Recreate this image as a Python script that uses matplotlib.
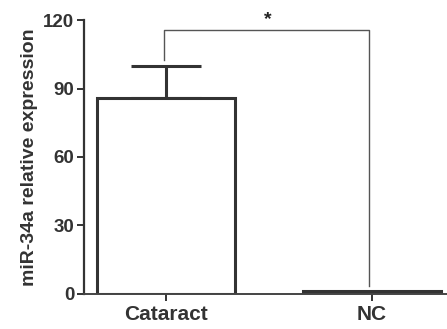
import matplotlib.pyplot as plt
import numpy as np

plt.rcParams['font.family'] = ['Liberation Sans', 'DejaVu Sans']
plt.rcParams['font.weight'] = 'bold'

groups = ['Cataract', 'NC']
means = [86, 1.2]
errors = [14, 0]
yticks = [0, 30, 60, 90, 120]

edge = '#333333'

fig = plt.figure(figsize=(4.47, 3.29), dpi=100)
ax = fig.add_axes([0.188, 0.1064, 0.812, 0.8328])

x = np.arange(len(groups))
ax.bar(x, means, width=0.67, color='white', edgecolor=edge, linewidth=2.2, zorder=2)
ax.errorbar(x[:1], means[:1], yerr=[[0], errors[:1]], fmt='none', ecolor=edge,
            elinewidth=2.2, capsize=25, capthick=2.2, zorder=1)

# significance bracket
ax.plot([-0.01, -0.01, 0.985, 0.985], [102.5, 115.8, 115.8, 3.5],
        color='#555555', linewidth=1, zorder=3)
ax.text(0.495, 116.3, '*', ha='center', va='bottom', fontsize=14, fontweight='bold', color='#222222')

ax.set_xlim(-0.398, 1.364)
ax.set_ylim(0, 120)
ax.set_xticks(x)
ax.set_xticklabels(groups, fontsize=15, fontweight='bold', color='#333333')
ax.set_yticks(yticks)
ax.set_yticklabels([str(t) for t in yticks], fontsize=13.5, fontweight='bold', color='#333333')
ax.set_ylabel('miR-34a relative expression', fontsize=14, fontweight='bold', color='#333333', labelpad=4)

for side in ['top', 'right']:
    ax.spines[side].set_visible(False)
ax.spines['left'].set_linewidth(1.6)
ax.spines['bottom'].set_linewidth(1.4)
ax.spines['left'].set_color(edge)
ax.spines['bottom'].set_color('#444444')
ax.tick_params(axis='y', length=5, width=1.4, color=edge, pad=2)
ax.tick_params(axis='x', length=5, width=1.4, color=edge, pad=3)

fig.savefig('out.png', dpi=100)
